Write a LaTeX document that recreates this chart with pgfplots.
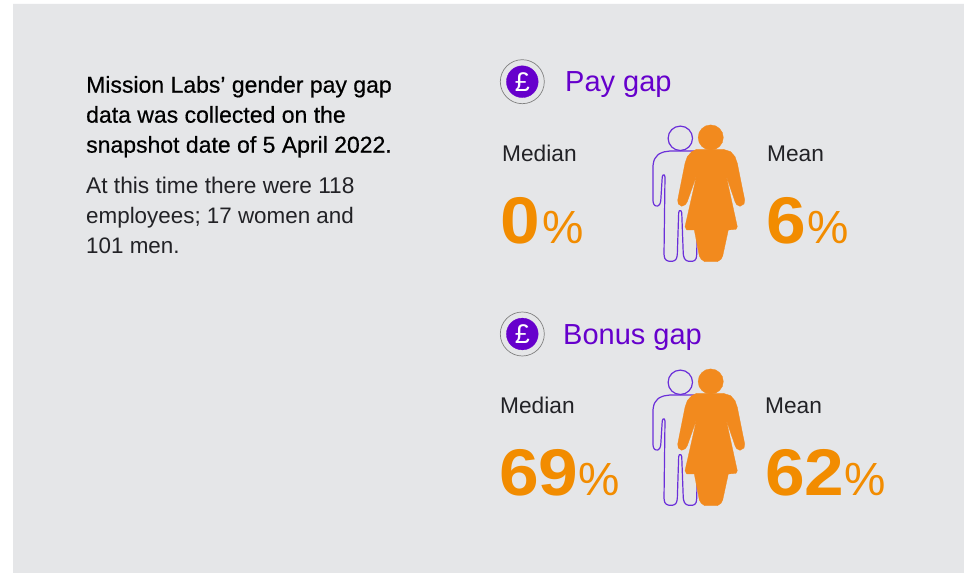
\documentclass[border=0pt]{standalone}
\usepackage{fontspec}
\usepackage{pgfplots}
\usepackage{pgfplotstable}
\pgfplotsset{compat=1.18}
\setmainfont{Liberation Sans}
\newfontfamily\medfont[FakeBold=0.5]{Liberation Sans}
\newfontfamily\numfont[FakeStretch=1.08]{Liberation Sans}

\definecolor{panel}{HTML}{E5E6E8}
\definecolor{brandpurple}{HTML}{6600CC}
\definecolor{outlinepurple}{HTML}{6B2FD9}
\definecolor{brandorange}{HTML}{F28C00}
\definecolor{figorange}{HTML}{F28A1E}
\definecolor{ink}{HTML}{222226}

% outlines in image pixels, first pair of figures
\pgfplotstableread{
x y
670 151
663.3 152
658.3 154.3
654.3 159.3
653 165
653 201.7
654 205
656.7 206.3
659.3 205.3
660.7 201.7
662.3 176
663.7 174.3
665 176
664 255
665 259.3
668.3 261.3
673.3 261.3
676.3 259.3
677.3 255
678.7 211.7
680 210
681.7 211.7
683.3 255
684.7 259.3
687.7 261.3
693.3 261.3
696 259.3
696.7 255
698 190
695 151
670 151
}\mantable

\pgfplotstableread{
x y
696.7 149.3
723.3 149.3
730.7 151.7
735 156.7
737.3 163.3
744.7 200
744 204
740 206.3
736.7 204.7
735 201.7
726 175
737.3 226.7
736 229.3
728.3 230
722.7 256
721 259.3
717.3 261.7
704.7 261.7
701.3 259.3
699.3 256
694.3 230
686.7 230
685 226.7
696.7 175
687.3 201.7
685.3 204.7
681.7 206.3
678.3 204
677.7 200
685 163.3
687.3 156.7
691.7 151.7
696.7 149.3
}\womantable

\newcommand{\people}[1]{
  \addplot[draw=outlinepurple, line width=1.2pt, rounded corners=1pt] table[x=x, y expr=\thisrow{y}+#1] {\mantable};
  \addplot[only marks, mark=o, mark size=12.2pt, mark options={draw=outlinepurple, line width=1.2pt}] coordinates {(680.3,138.3+#1)};
  \addplot[fill=figorange, draw=figorange, line width=0.3pt] table[x=x, y expr=\thisrow{y}+#1] {\womantable};
  \addplot[only marks, mark=*, mark size=12.6pt, mark options={draw=figorange, fill=figorange, line width=0.3pt}] coordinates {(710.7,137.5+#1)};
}
\newcommand{\poundicon}[1]{
  \addplot[on layer=axis background, mark layer=axis background, only marks, mark=o, mark size=22pt, mark options={draw=gray, line width=0.7pt}] coordinates {(522.3,#1)};
  \addplot[on layer=axis background, mark layer=axis background, only marks, mark=*, mark size=15.9pt, mark options={draw=brandpurple, fill=brandpurple, line width=0.3pt}] coordinates {(522.3,#1)};
  \node[anchor=center, inner sep=0pt, text=white, font=\fontsize{27}{27}\selectfont] at (axis cs:522.3,#1) {£};
}

\begin{document}
\begin{tikzpicture}[
  lbl/.style={inner sep=0pt, anchor=base west},
  head/.style={lbl, text=black, font=\fontsize{23}{26}\medfont},
  body/.style={lbl, text=ink, font=\fontsize{22.7}{26}\selectfont},
  bodys/.style={lbl, text=ink, font=\fontsize{22.4}{26}\selectfont},
  title/.style={lbl, text=brandpurple, font=\fontsize{29}{32}\selectfont},
  num/.style={lbl, text=brandorange, font=\fontsize{66}{66}\numfont\bfseries},
  pct/.style={lbl, text=brandorange, font=\fontsize{46.5}{46}\selectfont},
]
\begin{axis}[
  width=964pt, height=573pt, scale only axis,
  xmin=0, xmax=964, ymin=0, ymax=573,
  y dir=reverse,
  hide axis,
  set layers,
]
% page and panel
\addplot[on layer=axis background, fill=white, draw=none] coordinates {(0,0) (964,0) (964,573) (0,573) (0,0)};
\addplot[on layer=axis background, fill=panel, draw=none] coordinates {(13,4) (964,4) (964,573) (13,573) (13,4)};

% intro text
\node[head] at (axis cs:86,92.7) {Mission Labs’ gender pay gap};
\node[head] at (axis cs:86,122.7) {data was collected on the};
\node[head] at (axis cs:86,152.7) {snapshot date of 5 April 2022.};
\node[body] at (axis cs:86,193.3) {At this time there were 118};
\node[bodys] at (axis cs:86,223.3) {employees; 17 women and};
\node[bodys] at (axis cs:86,253.3) {101 men.};

% pay gap
\poundicon{81.7}
\node[title] at (axis cs:565,91.5) {Pay gap};
\node[body] at (axis cs:502,161.5) {Median};
\node[body] at (axis cs:767,161.5) {Mean};
\people{0}
\node[num] at (axis cs:500,243.5) {0};
\node[pct] at (axis cs:542,244) {\%};
\node[num] at (axis cs:766,243.5) {6};
\node[pct] at (axis cs:807,244) {\%};

% bonus gap
\poundicon{334}
\node[title] at (axis cs:563,344.5) {Bonus gap};
\node[body] at (axis cs:500,413.5) {Median};
\node[body] at (axis cs:765,413.5) {Mean};
\people{244}
\node[num] at (axis cs:499,495.5) {69};
\node[pct] at (axis cs:578,496) {\%};
\node[num] at (axis cs:765,495.5) {62};
\node[pct] at (axis cs:844,496) {\%};
\end{axis}
\end{tikzpicture}
\end{document}
